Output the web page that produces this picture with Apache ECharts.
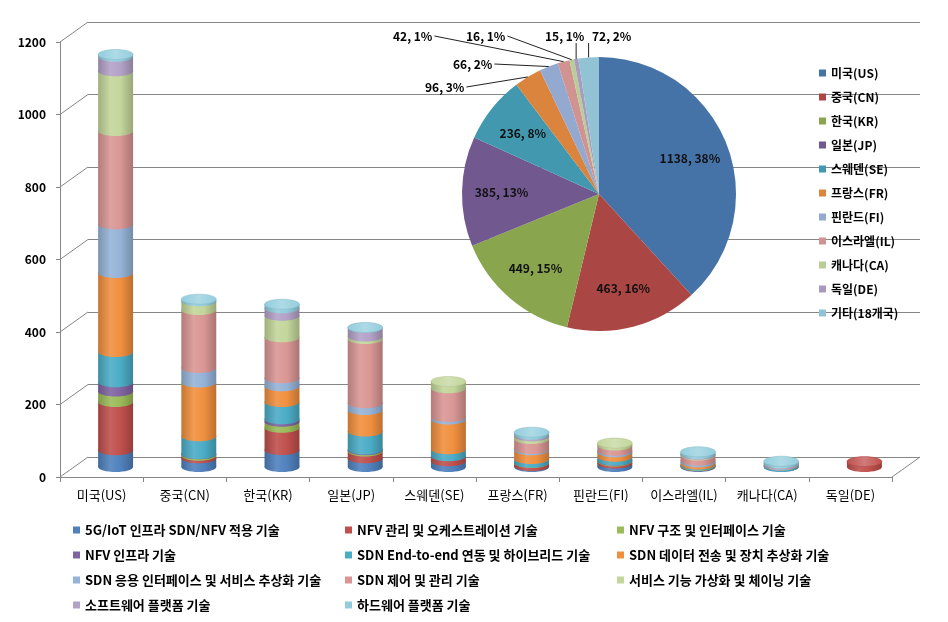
<!DOCTYPE html>
<html>
<head>
<meta charset="utf-8">
<script src="https://cdn.jsdelivr.net/npm/echarts@6/dist/echarts.min.js"></script>
<style>
html, body { margin: 0; padding: 0; background: #fff; }
#chart { width: 948px; height: 622px; }
</style>
</head>
<body>
<div id="chart"></div>
<script>
// 국가 (막대 x축)
const countries = ['미국(US)', '중국(CN)', '한국(KR)', '일본(JP)', '스웨덴(SE)', '프랑스(FR)', '핀란드(FI)', '이스라엘(IL)', '캐나다(CA)', '독일(DE)'];

// 기술 분야 (누적 순서, 아래에서 위로)
const techNames = [
    '5G/IoT 인프라 SDN/NFV 적용 기술',
    'NFV 관리 및 오케스트레이션 기술',
    'NFV 구조 및 인터페이스 기술',
    'NFV 인프라 기술',
    'SDN End-to-end 연동 및 하이브리드 기술',
    'SDN 데이터 전송 및 장치 추상화 기술',
    'SDN 응용 인터페이스 및 서비스 추상화 기술',
    'SDN 제어 및 관리 기술',
    '서비스 기능 가상화 및 체이닝 기술',
    '소프트웨어 플랫폼 기술',
    '하드웨어 플랫폼 기술'
];

// 국가별 기술 분야 값
const tech5gIot    = [46, 24, 47, 24, 16, 3, 10, 2, 1, 0];
const nfvMgmt      = [133, 7, 61, 19, 14, 8, 5, 1, 0, 15];
const nfvArch      = [29, 4, 17, 3, 0, 1, 2, 1, 0, 0];
const nfvInfra     = [26, 1, 7, 2, 0, 0, 1, 0, 0, 0];
const sdnE2e       = [83, 49, 47, 50, 19, 10, 10, 3, 3, 0];
const sdnData      = [218, 148, 44, 59, 82, 24, 13, 6, 1, 0];
const sdnApp       = [135, 40, 22, 19, 7, 4, 4, 5, 3, 0];
const sdnControl   = [257, 160, 113, 177, 79, 27, 14, 14, 2, 0];
const sfcChaining  = [165, 24, 59, 7, 19, 8, 7, 2, 0, 0];
const swPlatform   = [40, 0, 21, 24, 0, 4, 0, 2, 0, 0];
const hwPlatform   = [6, 6, 11, 1, 0, 7, 0, 6, 6, 0];
const techValues = [tech5gIot, nfvMgmt, nfvArch, nfvInfra, sdnE2e, sdnData, sdnApp, sdnControl, sfcChaining, swPlatform, hwPlatform];

// 파이 (국가별 합계)
const pieNames = ['미국(US)', '중국(CN)', '한국(KR)', '일본(JP)', '스웨덴(SE)', '프랑스(FR)', '핀란드(FI)', '이스라엘(IL)', '캐나다(CA)', '독일(DE)', '기타(18개국)'];
const pieValues = [1138, 463, 449, 385, 236, 96, 66, 42, 16, 15, 72];

// y축 눈금
const yTicks = [0, 200, 400, 600, 800, 1000, 1200];

const barColors = ['#4F81BD', '#C0504D', '#9BBB59', '#8064A2', '#4BACC6', '#F0903F', '#95B3D7', '#D99694', '#C3D69B', '#B3A2C7', '#93CDDD'];
const pieColors = ['#4572A7', '#AA4643', '#89A54E', '#71588F', '#4198AF', '#DB843D', '#93A9CF', '#D19392', '#B9CD96', '#A99BBD', '#92C3D4'];

// 작은 조각 라벨 위치 (왼쪽 x, 가운데 y)
const pieLabelPos = { 5: [425, 87], 6: [453, 64], 7: [393, 36], 8: [466, 36], 9: [545, 36], 10: [592, 36] };

const FONT = "'Noto Sans CJK KR', 'Noto Sans', sans-serif";
const LABEL_FONT = 'bold 12px ' + FONT;
const LINE = '#868686';
const DX = 28, DY = -20;   // 3D 깊이 오프셋
const PIE_C = [599, 194], PIE_R = 137;

const shade = (hex, f) => {
    const n = parseInt(hex.slice(1), 16);
    const t = f < 0 ? 0 : 255, p = Math.abs(f);
    const ch = [n >> 16, (n >> 8) & 255, n & 255].map(c => Math.round((t - c) * p + c));
    return `rgb(${ch[0]},${ch[1]},${ch[2]})`;
};

const sideGradient = (c) => new echarts.graphic.LinearGradient(0, 0, 1, 0, [
    { offset: 0, color: shade(c, -0.18) },
    { offset: 0.35, color: shade(c, 0.1) },
    { offset: 0.65, color: c },
    { offset: 1, color: shade(c, -0.22) }
]);
const capGradient = (c) => new echarts.graphic.LinearGradient(0, 0, 1, 0, [
    { offset: 0, color: shade(c, 0.0) },
    { offset: 0.5, color: shade(c, 0.25) },
    { offset: 1, color: shade(c, 0.0) }
]);

// 누적 기준값과 최상단 세그먼트
const stackBase = countries.map(() => 0);
const topTech = countries.map((_, i) => {
    let t = -1;
    techValues.forEach((vals, k) => { if (vals[i] > 0) t = k; });
    return t;
});

const barSeries = techNames.map((name, k) => {
    const data = countries.map((_, i) => {
        const b = stackBase[i];
        stackBase[i] += techValues[k][i];
        return [i, techValues[k][i], b];
    });
    const color = barColors[k];
    return {
        name: name,
        type: 'custom',
        xAxisIndex: 0,
        yAxisIndex: 0,
        itemStyle: { color: color },
        encode: { x: 0, y: 1 },
        data: data,
        renderItem: (params, api) => {
            const cat = api.value(0), v = api.value(1), b = api.value(2);
            if (!v) return null;
            const w = api.size([1, 0])[0] * 0.42;
            const rx = w / 2, ry = 5;
            const p0 = api.coord([cat, b]);
            const p1 = api.coord([cat, b + v]);
            const cx = p0[0] + DX / 2;
            const yb = p0[1] + DY / 2;
            const yt = p1[1] + DY / 2;
            const children = [
                { type: 'ellipse', z2: k * 10 + 1, shape: { cx: cx, cy: yb, rx: rx, ry: ry }, style: { fill: sideGradient(color) } },
                { type: 'rect', z2: k * 10 + 2, shape: { x: cx - rx, y: yt, width: w, height: yb - yt }, style: { fill: sideGradient(color) } }
            ];
            if (topTech[cat] === k) {
                children.push({ type: 'ellipse', z2: k * 10 + 3, shape: { cx: cx, cy: yt, rx: rx, ry: ry }, style: { fill: capGradient(color), stroke: shade(color, -0.1), lineWidth: 0.5 } });
            }
            return { type: 'group', children: children };
        }
    };
});

// 3D 벽면 사선
const wallSeries = {
    type: 'custom',
    xAxisIndex: 0,
    yAxisIndex: 0,
    silent: true,
    data: yTicks.map(v => [0, v]),
    encode: { x: 0, y: 1 },
    renderItem: (params, api) => {
        const cs = params.coordSys;
        const y = api.coord([0, api.value(1)])[1];
        const style = { stroke: LINE, lineWidth: 1 };
        const lines = [{ type: 'line', shape: { x1: cs.x, y1: y, x2: cs.x + DX, y2: y + DY }, style: style }];
        if (api.value(1) === 0) {
            lines.push({ type: 'line', shape: { x1: cs.x + cs.width, y1: y, x2: cs.x + cs.width + DX, y2: y + DY }, style: style });
        }
        return { type: 'group', children: lines };
    }
};

const pieTotal = pieValues.reduce((a, b) => a + b, 0);
const pieLabelText = (v) => v + ', ' + Math.round(v / pieTotal * 100) + '%';
const pieLabel = (p) => pieLabelText(p.value);

// 조각 바깥 가장자리의 중간점
let acc = 0;
const pieEdge = pieValues.map(v => {
    const a = (acc + v / 2) / pieTotal * Math.PI * 2;
    acc += v;
    return [PIE_C[0] + PIE_R * Math.sin(a), PIE_C[1] - PIE_R * Math.cos(a)];
});

const measureCtx = document.createElement('canvas').getContext('2d');
measureCtx.font = LABEL_FONT;

// 작은 조각 지시선
const leaderSeries = {
    type: 'custom',
    coordinateSystem: 'none',
    silent: true,
    z: 7,
    data: Object.keys(pieLabelPos).map(k => [Number(k)]),
    renderItem: (params, api) => {
        const i = api.value(0);
        const pos = pieLabelPos[i];
        const e = pieEdge[i];
        const w = measureCtx.measureText(pieLabelText(pieValues[i])).width;
        const right = pos[0] + w;
        const start = e[0] > right + 4 ? [right + 2, pos[1]] : [e[0], pos[1] + 7];
        return {
            type: 'line',
            shape: { x1: start[0], y1: start[1], x2: e[0], y2: e[1] },
            style: { stroke: '#222', lineWidth: 1 }
        };
    }
};

const pieMain = {
    type: 'pie',
    center: PIE_C,
    radius: PIE_R,
    startAngle: 90,
    clockwise: true,
    z: 5,
    label: { show: false, position: 'outside', formatter: pieLabel, color: '#000', fontWeight: 'bold', fontSize: 12, fontFamily: FONT },
    labelLine: { show: false },
    labelLayout: (params) => {
        const pos = pieLabelPos[params.dataIndex];
        if (!pos) return {};
        return { x: pos[0], y: pos[1], align: 'left', verticalAlign: 'middle' };
    },
    data: pieNames.map((n, i) => ({
        name: n,
        value: pieValues[i],
        itemStyle: { color: pieColors[i] },
        label: { show: i >= 5 }
    }))
};

// 큰 조각 라벨용 투명 파이
const pieInner = {
    type: 'pie',
    center: PIE_C,
    radius: [52, PIE_R],
    startAngle: 90,
    clockwise: true,
    silent: true,
    z: 6,
    legendHoverLink: false,
    itemStyle: { color: 'rgba(0,0,0,0)' },
    label: { show: true, position: 'inside', formatter: pieLabel, color: '#111', fontWeight: 'bold', fontSize: 12, fontFamily: FONT },
    labelLine: { show: false },
    data: pieNames.map((n, i) => ({
        name: n,
        value: pieValues[i],
        label: { show: i < 5 }
    }))
};

const chart = echarts.init(document.getElementById('chart'));

chart.setOption({
    animation: false,
    backgroundColor: '#fff',
    textStyle: { fontFamily: FONT },
    grid: [
        { left: 60, top: 42, right: 56, bottom: 145 },
        { left: 60 + DX, top: 42 + DY, right: 56 - DX, bottom: 145 - DY }
    ],
    xAxis: [
        {
            type: 'category',
            gridIndex: 0,
            data: countries,
            axisLine: { lineStyle: { color: LINE } },
            axisTick: { show: true, length: 5, lineStyle: { color: LINE } },
            axisLabel: { color: '#000', fontSize: 13, margin: 12, interval: 0 }
        },
        { type: 'category', gridIndex: 1, data: countries, show: false }
    ],
    yAxis: [
        {
            type: 'value',
            gridIndex: 0,
            min: 0,
            max: 1200,
            interval: 200,
            axisLine: { show: true, lineStyle: { color: LINE } },
            axisTick: { show: true, length: 4, lineStyle: { color: LINE } },
            splitLine: { show: false },
            axisLabel: { color: '#000', fontWeight: 'bold', fontSize: 12, margin: 14, formatter: (v) => String(v) }
        },
        {
            type: 'value',
            gridIndex: 1,
            min: 0,
            max: 1200,
            interval: 200,
            axisLine: { show: false },
            axisTick: { show: false },
            axisLabel: { show: false },
            splitLine: { show: true, lineStyle: { color: LINE } }
        }
    ],
    legend: [
        {
            data: techNames,
            orient: 'horizontal',
            left: 68,
            top: 517,
            width: 830,
            icon: 'rect',
            itemWidth: 7,
            itemHeight: 7,
            itemGap: 9,
            textStyle: { width: 251, overflow: 'none', fontSize: 13, fontWeight: 'bold', color: '#000', lineHeight: 16 }
        },
        {
            data: pieNames,
            orient: 'vertical',
            left: 814,
            top: 60,
            icon: 'rect',
            itemWidth: 7,
            itemHeight: 7,
            itemGap: 8,
            textStyle: { fontSize: 12, fontWeight: 'bold', color: '#000', lineHeight: 16 }
        }
    ],
    series: [wallSeries, ...barSeries, pieMain, pieInner, leaderSeries]
});
</script>
</body>
</html>
